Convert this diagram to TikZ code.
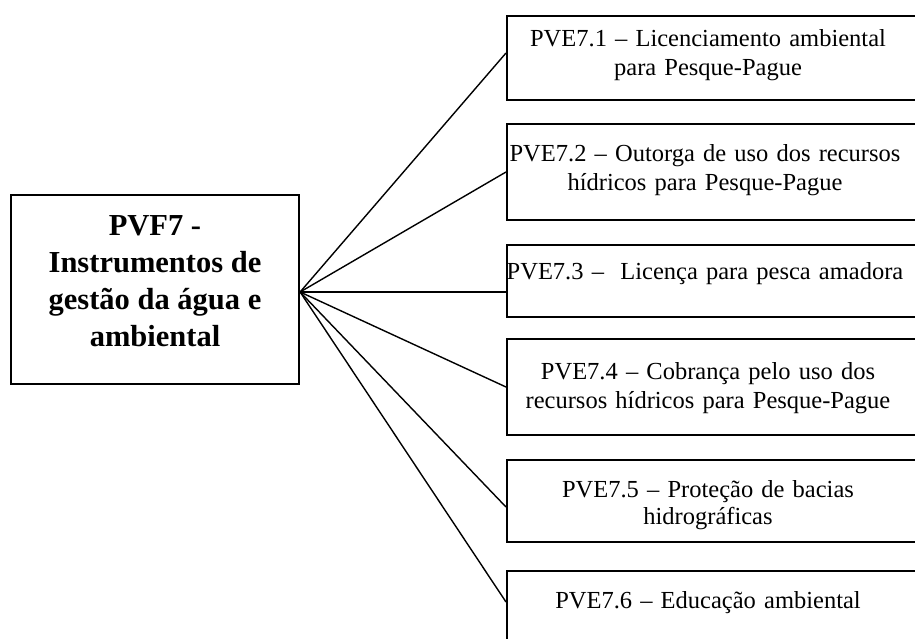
\documentclass[tikz,border=0pt]{standalone}
\usepackage{fontspec}
\setmainfont{Liberation Serif}
\begin{document}
\begin{tikzpicture}[x=1pt, y=-1pt,
  mainbox/.style={draw, line width=2.2pt, minimum width=288pt, minimum height=189pt,
    align=center, inner sep=0pt, text depth=16pt, font=\fontsize{30.5}{37}\selectfont\bfseries},
  pvebox/.style={draw, line width=1.8pt, minimum width=424pt, anchor=north west, inner sep=0pt},
  pvetext/.style={anchor=base, text width=440pt, align=center, inner sep=0pt,
    font=\fontsize{24.5}{29}\selectfont},
  link/.style={line width=1.4pt}]
  \useasboundingbox (0,0) rectangle (915,639);
  \clip (0,0) rectangle (915,639);

  % main box
  \node[mainbox] (main) at (155,289.5) {PVF7 -\\Instrumentos de\\gestão da água e\\ambiental};
  \coordinate (hub) at ([yshift=-2.5pt]main.east);

  % right boxes
  \node[pvebox, minimum height=84pt] (b1) at (506,15) {};
  \node[pvebox, minimum height=96pt] (b2) at (506,123) {};
  \node[pvebox, minimum height=72pt] (b3) at (506,244) {};
  \node[pvebox, minimum height=96pt] (b4) at (506,338) {};
  \node[pvebox, minimum height=82pt] (b5) at (506,459) {};
  \node[pvebox, minimum height=100pt] (b6) at (506,570) {};

  \node[pvetext] (t1) at (708,47) {PVE7.1 – Licenciamento ambiental\\para Pesque-Pague};
  \node[pvetext] (t2) at (705,162) {PVE7.2 – Outorga de uso dos recursos\\hídricos para Pesque-Pague};
  \node[pvetext] (t3) at (705,279) {PVE7.3 –\ \ Licença para pesca amadora};
  \node[pvetext] (t4) at (708,379) {PVE7.4 – Cobrança pelo uso dos\\recursos hídricos para Pesque-Pague};
  \node[pvetext, font=\fontsize{24.5}{27}\selectfont] (t5) at (708,497) {PVE7.5 – Proteção de bacias\\hidrográficas};
  \node[pvetext] (t6) at (708,608) {PVE7.6 – Educação ambiental};

  % connectors
  \foreach \b/\y in {b1/53, b2/172, b3/292, b4/387, b5/507, b6/602}
    \draw[link] (hub) -- (\b.west |- 0,\y);
\end{tikzpicture}
\end{document}
